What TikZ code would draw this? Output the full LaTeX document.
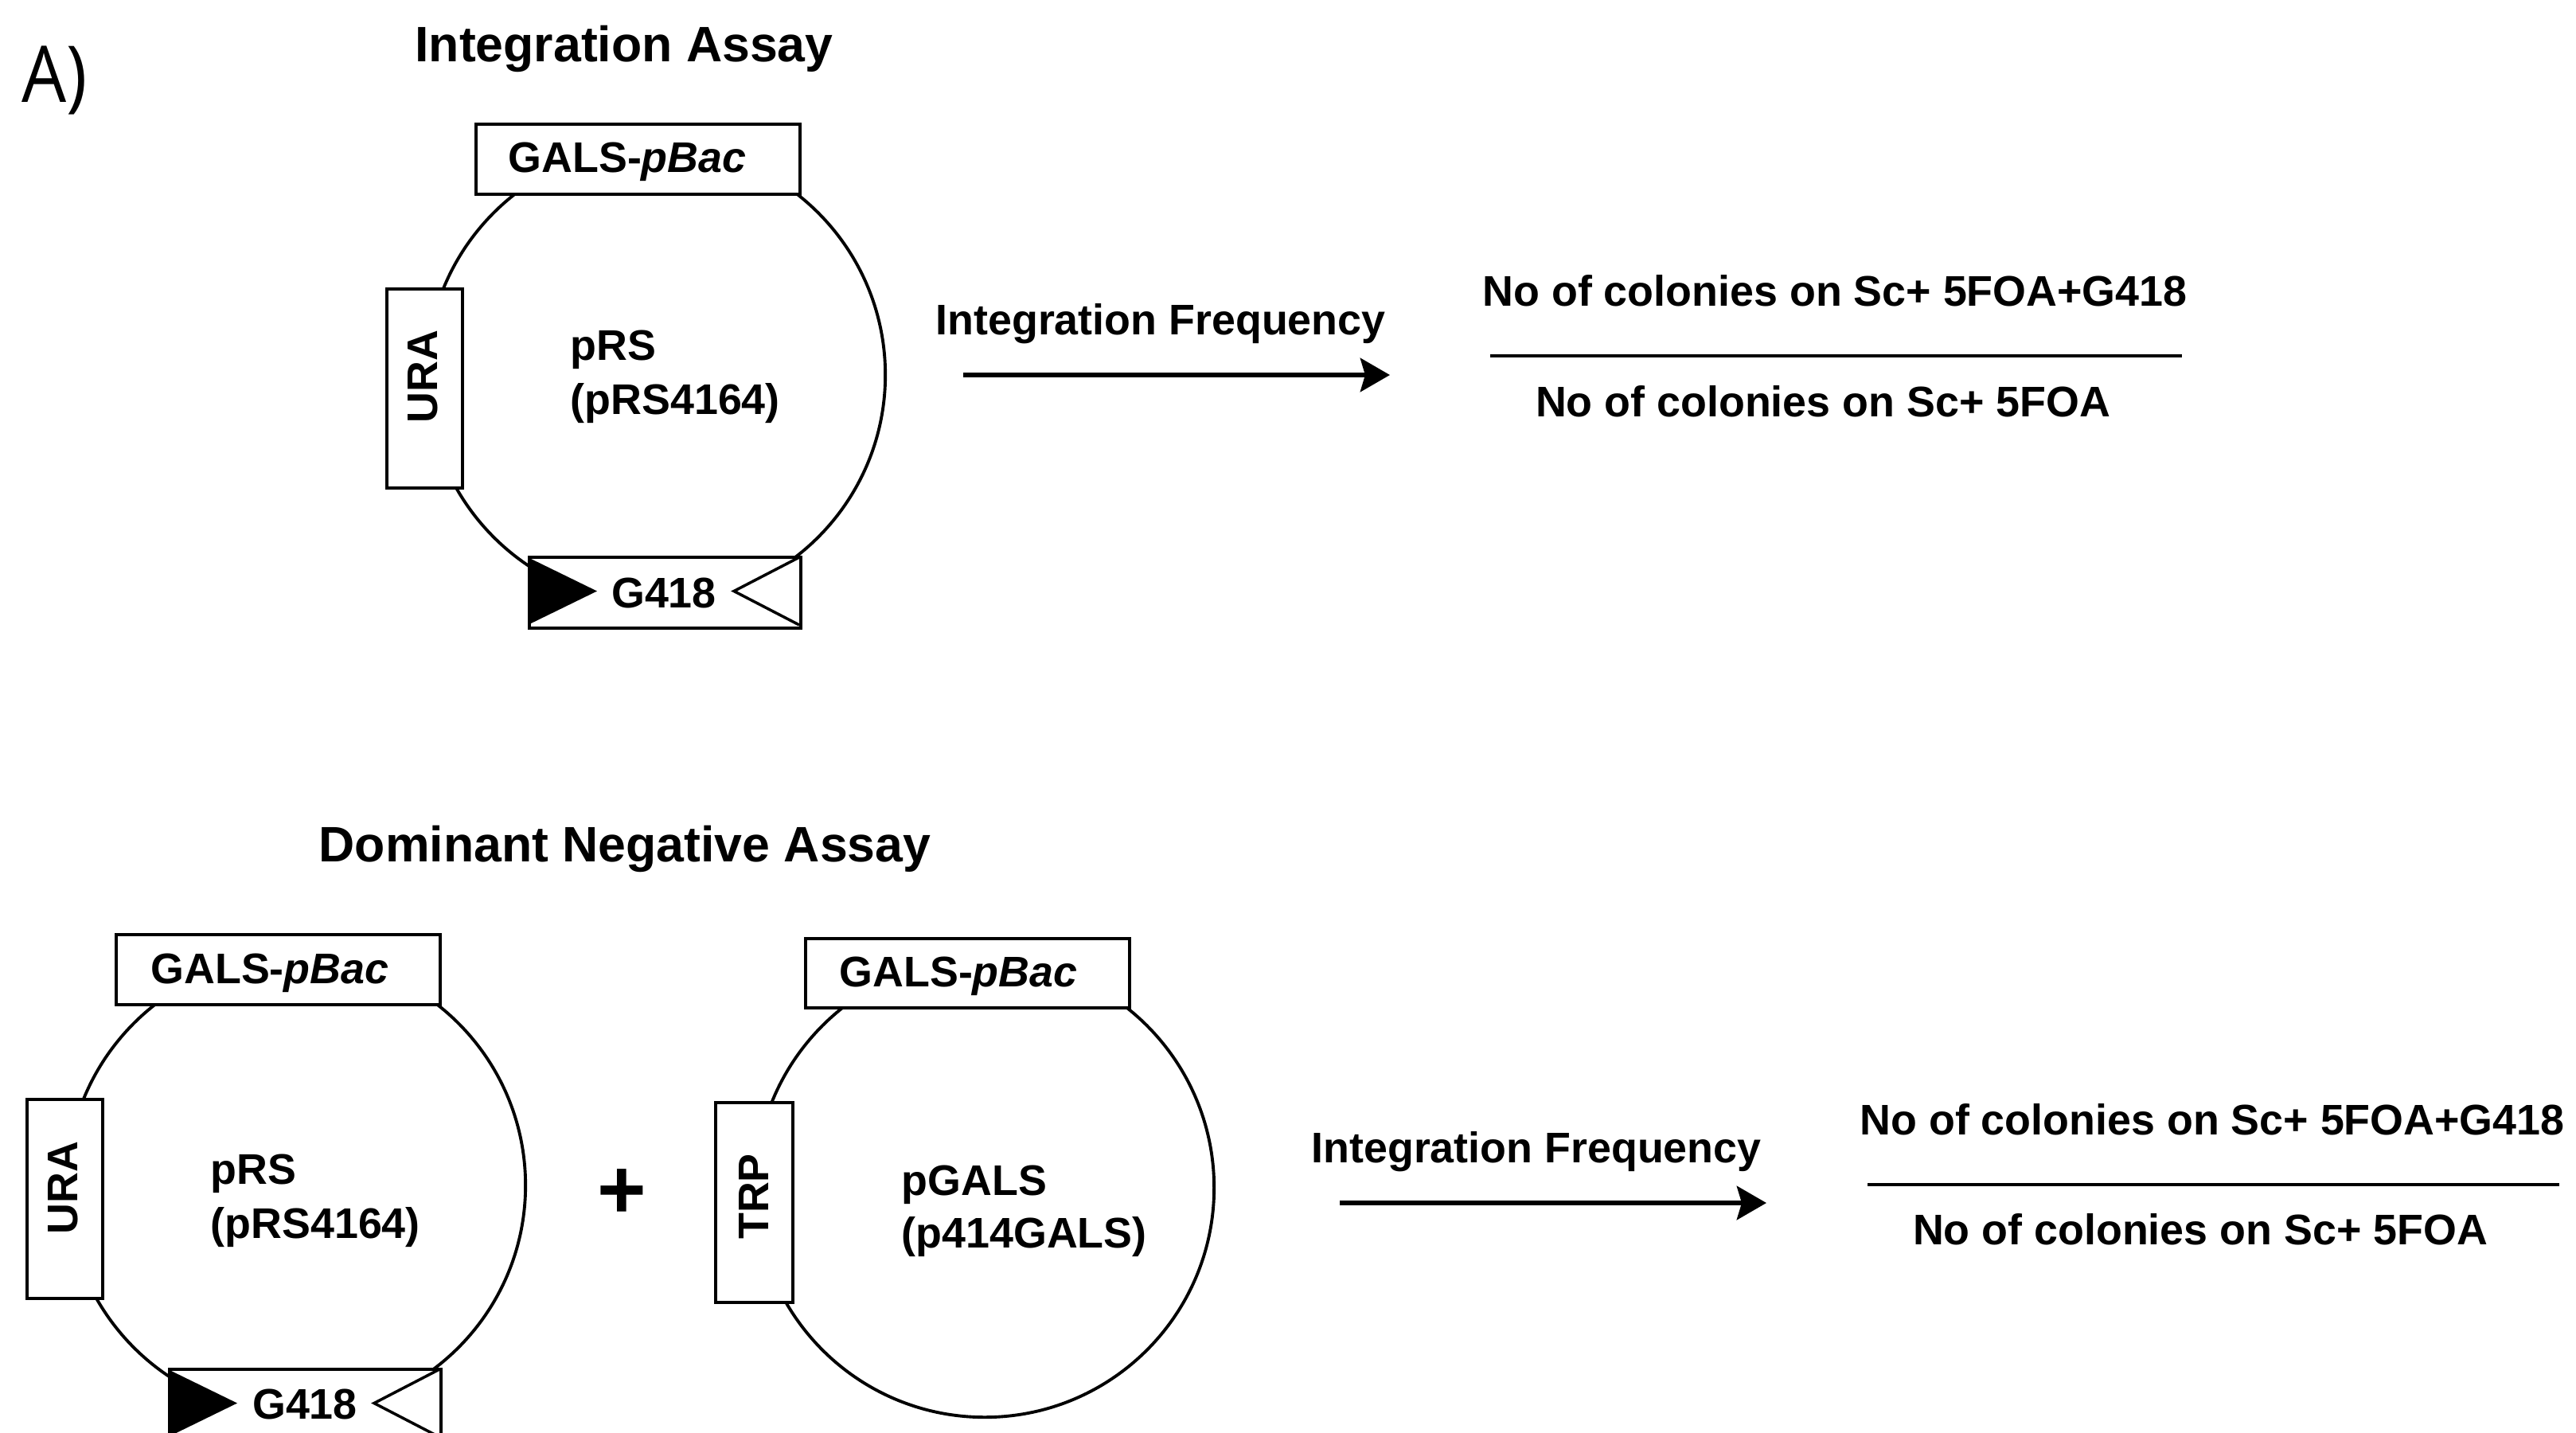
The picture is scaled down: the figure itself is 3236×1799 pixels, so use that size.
\documentclass[tikz,border=0pt]{standalone}
\usepackage{fontspec}
\setmainfont{Liberation Sans}
\newfontfamily\panelfont{Open Sans}
\usetikzlibrary{arrows.meta}
\tikzset{
  txt/.style={inner sep=0pt, font=\fontsize{15.3}{18}\selectfont\bfseries},
  ttl/.style={inner sep=0pt, font=\fontsize{17.8}{21}\selectfont\bfseries},
  gbox/.style={draw, fill=white, line width=1.15pt, inner sep=0pt},
  ring/.style={draw, line width=1.1pt},
  flow/.style={line width=1.9pt, -{Stealth[length=0.37cm, width=0.42cm, inset=0.06cm]}},
  fracline/.style={line width=0.9pt},
  tri/.style={line width=1pt, line join=miter},
}
\begin{document}
\begin{tikzpicture}[x=0.01cm, y=-0.01cm]
\path[use as bounding box, fill=white] (0,0) rectangle (3236,1799);
\clip (0,0) rectangle (3236,1799);

\node[inner sep=0pt, anchor=base west, font=\panelfont\fontsize{28}{32}\selectfont, xscale=0.9] (panel) at (27,128) {A)};

% ---------- Integration assay ----------
\node[ttl, anchor=base] (title1) at (784,77) {Integration Assay};

\begin{scope}[shift={(824,471)}]
  \draw[ring] (0,0) circle[radius=2.88cm];
  \node[gbox, minimum width=4.07cm, minimum height=0.88cm, anchor=north west] (galsA) at (-228,-317) {};
  \node[txt, anchor=base] (galsAt) at (-36,-255) {GALS-\textit{pBac}};
  \node[gbox, minimum width=0.95cm, minimum height=2.50cm, anchor=north west] (uraA) at (-340,-110) {};
  \node[txt, rotate=90] (uraAt) at (-293,2) {URA};
  \node[gbox, minimum width=3.41cm, minimum height=0.89cm, anchor=north west] (gA) at (-161,227) {};
  \fill (-161,229) -- (-74,271.5) -- (-161,314) -- cycle;
  \draw[tri] (180,229) -- (98,271.5) -- (180,314);
  \node[txt, anchor=base] (gAt) at (10,292) {G418};
  \node[txt, anchor=base west] (pA1) at (-108,-19) {pRS};
  \node[txt, anchor=base west] (pA2) at (-108,49) {(pRS4164)};
\end{scope}

\coordinate (a1s) at (1210,471);
\coordinate (a1e) at (1746,471);
\draw[flow] (a1s) -- (a1e);
\node[txt, anchor=base] (f1) at (1458,420) {Integration Frequency};
\node[txt, anchor=base] (n1) at (2305,384) {No of colonies on Sc+ 5FOA+G418};
\coordinate (l1s) at (1872,447);
\coordinate (l1e) at (2741,447);
\draw[fracline] (l1s) -- (l1e);
\node[txt, anchor=base] (d1) at (2290,523) {No of colonies on Sc+ 5FOA};

% ---------- Dominant negative assay ----------
\node[ttl, anchor=base] (title2) at (785,1082) {Dominant Negative Assay};

\begin{scope}[shift={(372,1489)}]
  \draw[ring] (0,0) circle[radius=2.88cm];
  \node[gbox, minimum width=4.07cm, minimum height=0.88cm, anchor=north west] (galsB) at (-228,-317) {};
  \node[txt, anchor=base] (galsBt) at (-33,-254) {GALS-\textit{pBac}};
  \node[gbox, minimum width=0.95cm, minimum height=2.50cm, anchor=north west] (uraB) at (-340,-110) {};
  \node[txt, rotate=90] (uraBt) at (-293,3) {URA};
  \node[gbox, minimum width=3.41cm, minimum height=0.89cm, anchor=north west] (gB) at (-161,229) {};
  \fill (-161,231) -- (-74,273.5) -- (-161,316) -- cycle;
  \draw[tri] (180,231) -- (98,273.5) -- (180,316);
  \node[txt, anchor=base] (gBt) at (11,293) {G418};
  \node[txt, anchor=base west] (pB1) at (-108,-2) {pRS};
  \node[txt, anchor=base west] (pB2) at (-108,66) {(pRS4164)};
\end{scope}

\node[inner sep=0pt, font=\fontsize{30}{34}\selectfont\bfseries] (plus) at (781,1500) {+};

\begin{scope}[shift={(1237,1492)}]
  \draw[ring] (0,0) circle[radius=2.88cm];
  \node[gbox, minimum width=4.07cm, minimum height=0.87cm, anchor=north west] (galsC) at (-227,-315) {};
  \node[txt, anchor=base] (galsCt) at (-33,-253) {GALS-\textit{pBac}};
  \node[gbox, minimum width=0.97cm, minimum height=2.51cm, anchor=north west] (trpC) at (-340,-109) {};
  \node[txt, rotate=90] (trpCt) at (-290,11) {TRP};
  \node[txt, anchor=base west] (pC1) at (-105,9) {pGALS};
  \node[txt, anchor=base west] (pC2) at (-105,75) {(p414GALS)};
\end{scope}

\coordinate (a2s) at (1683,1511);
\coordinate (a2e) at (2219,1511);
\draw[flow] (a2s) -- (a2e);
\node[txt, anchor=base] (f2) at (1930,1460) {Integration Frequency};
\node[txt, anchor=base] (n2) at (2779,1425) {No of colonies on Sc+ 5FOA+G418};
\coordinate (l2s) at (2346,1488);
\coordinate (l2e) at (3215,1488);
\draw[fracline] (l2s) -- (l2e);
\node[txt, anchor=base] (d2) at (2764,1563) {No of colonies on Sc+ 5FOA};
\end{tikzpicture}
\end{document}
